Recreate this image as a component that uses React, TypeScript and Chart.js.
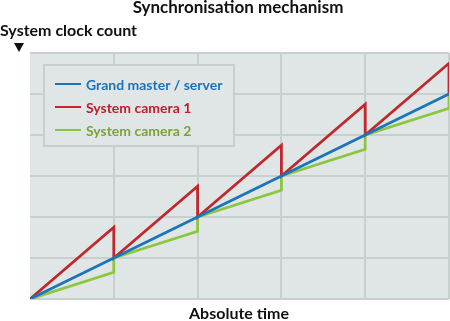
import React, { useEffect, useRef } from "react";
import { Chart, registerables } from "chart.js";

Chart.register(...registerables);

const chartTitle = "Synchronisation mechanism";
const yAxisTitle = "System clock count";
const xAxisTitle = "Absolute time";

const seriesLabels = ["Grand master / server", "System camera 1", "System camera 2"];
const lineColors = ["#1b75bc", "#c1272d", "#8cc63f"];
const textColors = ["#1f72b8", "#be1e2d", "#7da23a"];

const masterX = [0, 1, 2, 3, 4, 5];
const masterY = [0, 1, 2, 3, 4, 5];

const camera1X = [0, 1, 1, 2, 2, 3, 3, 4, 4, 5, 5];
const camera1Y = [0, 1.75, 1, 2.75, 2, 3.75, 3, 4.75, 4, 5.75, 5];

const camera2X = [0, 1, 1, 2, 2, 3, 3, 4, 4, 5, 5];
const camera2Y = [0, 0.65, 1, 1.65, 2, 2.65, 3, 3.65, 4, 4.65, 5];

const FONT = "Lato, 'Open Sans', sans-serif";

const pts = (xs: number[], ys: number[]) => xs.map((x, i) => ({ x, y: ys[i] }));

const decorPlugin = {
  id: "decor",
  beforeDraw(chart: any) {
    const { ctx, chartArea } = chart;
    ctx.save();
    ctx.fillStyle = "#dfe6e5";
    ctx.fillRect(chartArea.left, chartArea.top, chartArea.right - chartArea.left, chartArea.bottom - chartArea.top);
    ctx.restore();
  },
  afterDraw(chart: any) {
    const { ctx } = chart;
    ctx.save();
    ctx.fillStyle = "#111";
    ctx.textBaseline = "middle";
    ctx.font = `bold 17px ${FONT}`;
    ctx.textAlign = "center";
    ctx.fillText(chartTitle, 238, 8);
    ctx.font = `bold 16px ${FONT}`;
    ctx.textAlign = "left";
    ctx.fillText(yAxisTitle, 0, 31);
    ctx.textAlign = "center";
    ctx.fillText(xAxisTitle, 239, 314);
    ctx.beginPath();
    ctx.moveTo(14, 43);
    ctx.lineTo(24, 43);
    ctx.lineTo(19, 52);
    ctx.closePath();
    ctx.fill();

    const bx = 44, by = 65, bw = 190, bh = 81;
    ctx.fillStyle = "#dfe6e5";
    ctx.fillRect(bx, by, bw, bh);
    ctx.strokeStyle = "#c4cfce";
    ctx.lineWidth = 2;
    ctx.strokeRect(bx, by, bw, bh);
    const ds = chart.data.datasets;
    const rowY = [84, 107, 130];
    ctx.font = `bold 14px ${FONT}`;
    ctx.textAlign = "left";
    ds.forEach((d: any, i: number) => {
      ctx.strokeStyle = d.borderColor;
      ctx.lineWidth = 2;
      ctx.beginPath();
      ctx.moveTo(55, rowY[i]);
      ctx.lineTo(81, rowY[i]);
      ctx.stroke();
      ctx.fillStyle = textColors[i];
      ctx.fillText(d.label, 86, rowY[i] + 1);
    });
    ctx.restore();
  },
};

export default function App() {
  const ref = useRef<HTMLCanvasElement>(null);
  useEffect(() => {
    if (!ref.current) return;
    const chart = new Chart(ref.current, {
      type: "line",
      data: {
        datasets: [
          { label: seriesLabels[0], data: pts(masterX, masterY), borderColor: lineColors[0], borderWidth: 2.8, pointRadius: 0, tension: 0 },
          { label: seriesLabels[1], data: pts(camera1X, camera1Y), borderColor: lineColors[1], borderWidth: 2.8, pointRadius: 0, tension: 0 },
          { label: seriesLabels[2], data: pts(camera2X, camera2Y), borderColor: lineColors[2], borderWidth: 2.8, pointRadius: 0, tension: 0 },
        ],
      },
      options: {
        animation: false,
        responsive: false,
        devicePixelRatio: 1,
        layout: { padding: { left: 30, top: 53, right: 1, bottom: 22 } },
        plugins: { legend: { display: false }, title: { display: false }, tooltip: { enabled: false } },
        scales: {
          x: {
            type: "linear",
            min: 0,
            max: 5,
            ticks: { display: false, stepSize: 1 },
            grid: { color: (c: any) => (c.index === 0 ? "rgba(0,0,0,0)" : "#c6d0cf"), lineWidth: 2, drawTicks: false },
            border: { display: false },
          },
          y: {
            type: "linear",
            min: 0,
            max: 6,
            ticks: { display: false, stepSize: 1 },
            grid: { color: "#c6d0cf", lineWidth: 2, drawTicks: false },
            border: { display: false },
          },
        },
      },
      plugins: [decorPlugin],
    } as any);
    return () => chart.destroy();
  }, []);
  return (
    <div style={{ position: "fixed", left: 0, top: 0, width: 450, height: 321, background: "#fff" }}>
      <canvas ref={ref} width={450} height={321} />
    </div>
  );
}
